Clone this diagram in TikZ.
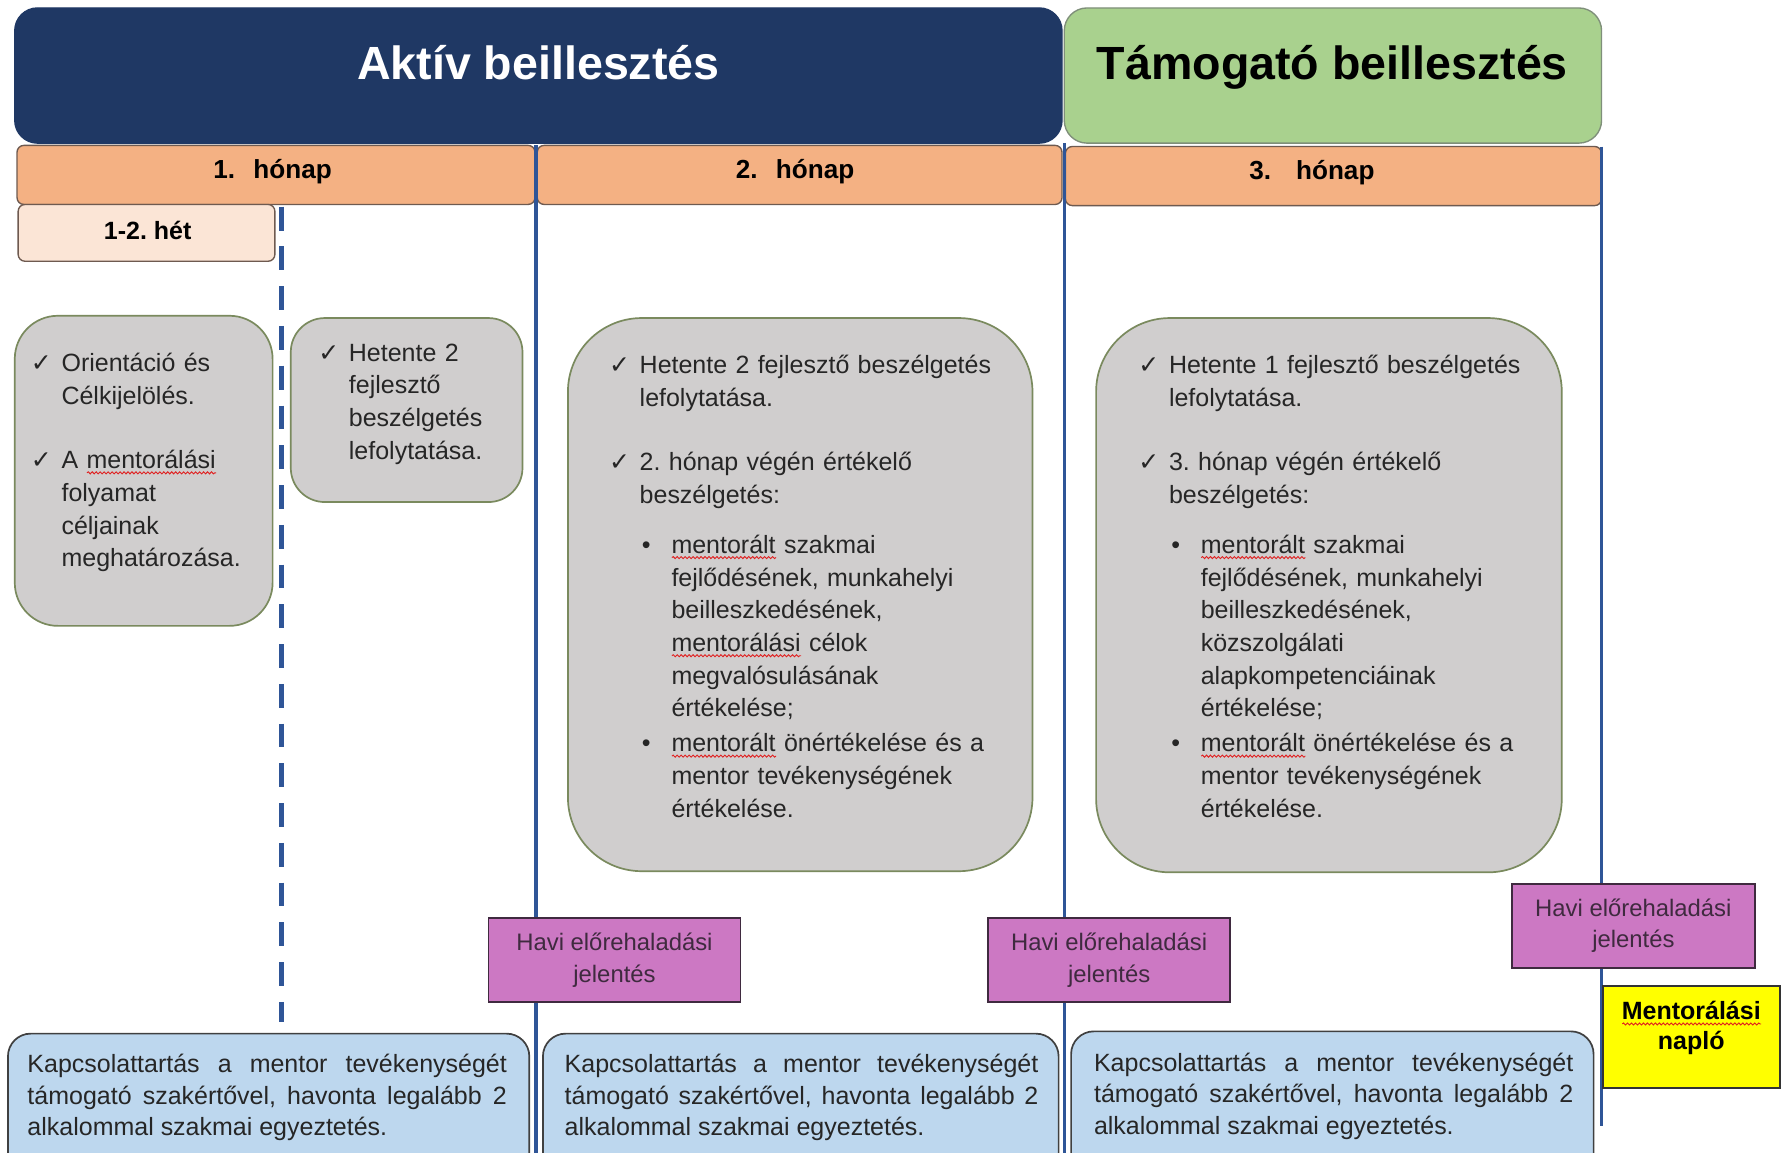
\documentclass[tikz,border=0pt]{standalone}
\usepackage{fontspec}
\setmainfont{Liberation Sans}
\newfontfamily\symfont{DejaVu Sans}
\usetikzlibrary{decorations.pathmorphing}
\definecolor{navy}{HTML}{1F3864}
\definecolor{grn}{HTML}{A9D18E}
\definecolor{grnb}{HTML}{7F8F7A}
\definecolor{orng}{HTML}{F4B183}
\definecolor{orngb}{HTML}{6E5A50}
\definecolor{peach}{HTML}{FBE5D6}
\definecolor{grayf}{HTML}{D0CECE}
\definecolor{olive}{HTML}{7A8A5E}
\definecolor{purp}{HTML}{CC78C3}
\definecolor{purpb}{HTML}{3F2A3F}
\definecolor{lblue}{HTML}{BDD7EE}
\definecolor{dkb}{HTML}{404040}
\definecolor{ylw}{HTML}{FFFF00}
\definecolor{lineblue}{HTML}{2F5597}
\definecolor{txtc}{HTML}{262626}
\definecolor{spell}{HTML}{E02020}
\newsavebox\sqbox
\newlength\sqlen
\newcommand\sq[1]{\sbox\sqbox{#1}\setlength\sqlen{\wd\sqbox}\makebox[0pt][l]{\raisebox{-5pt}{\tikz[x=1pt,y=1pt]\draw[spell,line width=0.8pt,decorate,decoration={snake,amplitude=0.9pt,segment length=3.5pt}] (0,0) -- (\sqlen,0);}}\usebox\sqbox}
\newcommand\ckitem{\makebox[27pt][l]{\symfont\fontsize{22}{22}\selectfont ✓}}
\newcommand\ind{\hspace*{27pt}}
\newcommand\blt{\hspace*{29pt}\makebox[26pt][l]{•}}
\newcommand\bind{\hspace*{55pt}}
\frenchspacing
\begin{document}
\frenchspacing
\begin{tikzpicture}[x=1pt,y=-1pt,
  box/.style={anchor=north west,inner sep=0pt,outer sep=0pt},
  titlebox/.style={box,rounded corners=20pt,line width=1.2pt},
  titletxt/.style={anchor=base,inner sep=0pt,font=\fontsize{41}{48}\selectfont\bfseries},
  monthbox/.style={box,fill=orng,draw=orngb,rounded corners=6pt,line width=1.2pt,minimum height=52pt},
  monthtxt/.style={inner sep=0pt,font=\fontsize{23}{28}\selectfont\bfseries},
  graybox/.style={box,fill=grayf,draw=olive,line width=1.5pt},
  bodytxt/.style={anchor=base west,inner sep=0pt,text=txtc,align=left,font=\fontsize{22}{28.8}\selectfont\frenchspacing},
  reportbox/.style={box,fill=purp,draw=purpb,line width=1.5pt,minimum height=74pt,align=center,text=purpb,font=\fontsize{21}{28}\selectfont},
  contactbox/.style={box,fill=lblue,draw=dkb,rounded corners=20pt,line width=1.5pt,minimum height=130pt},
  contacttxt/.style={anchor=base west,inner sep=0pt,text=txtc,align=justify,font=\fontsize{22}{28}\selectfont\frenchspacing},
  divider/.style={draw=lineblue,line width=3pt},
  weekdivider/.style={draw=lineblue,line width=4.5pt,dash pattern=on 21pt off 14pt}
]
\path[use as bounding box] (0,0) rectangle (1568,1015);
\clip (0,0) rectangle (1568,1015);
\fill[white] (0,0) rectangle (1568,1015);

% phase headers
\node[titlebox,fill=navy,draw=navy,minimum width=922pt,minimum height=119pt] (aktiv) at (13,7) {};
\node[titletxt,text=white] (aktivT) at (474,70) {Aktív beillesztés};
\node[titlebox,fill=grn,draw=grnb,minimum width=473pt,minimum height=119pt] (tam) at (937,7) {};
\node[titletxt,text=black] (tamT) at (1173,70) {Támogató beillesztés};

% months
\node[monthbox,minimum width=456pt] (m1) at (15,128) {};
\node[monthbox,minimum width=462pt] (m2) at (473,128) {};
\node[monthbox,minimum width=472pt] (m3) at (938,129) {};
\node[monthtxt] (m1T) at (240,151) {1.\hspace{16pt}hónap};
\node[monthtxt] (m2T) at (700,151) {2.\hspace{16pt}hónap};
\node[monthtxt] (m3T) at (1155,152) {3.\hspace{22pt}hónap};

% week box
\node[box,fill=peach,draw=orngb,rounded corners=6pt,line width=1.2pt,minimum width=226pt,minimum height=50pt] (wk) at (16,180) {};
\node[monthtxt,font=\fontsize{22}{26}\selectfont\bfseries] (wkT) at (130,203) {1-2. hét};

% dividers
\coordinate (d0a) at (248,182);
\coordinate (d0b) at (248,900);
\coordinate (d1a) at (472,128);
\coordinate (d1b) at (472,1030);
\coordinate (d2a) at (937,126);
\coordinate (d2b) at (937,1030);
\coordinate (d3a) at (1410,129);
\coordinate (d3b) at (1410,991);
\draw[weekdivider] (d0a) -- (d0b);
\draw[divider] (d1a) -- (d1b);
\draw[divider] (d2a) -- (d2b);
\draw[divider] (d3a) -- (d3b);

% gray activity boxes
\node[graybox,rounded corners=38pt,minimum width=227pt,minimum height=273pt] (g1) at (13,278) {};
\node[graybox,rounded corners=30pt,minimum width=204pt,minimum height=162pt] (g2) at (256,280) {};
\node[graybox,rounded corners=65pt,minimum width=409pt,minimum height=487pt] (g3) at (500,280) {};
\node[graybox,rounded corners=65pt,minimum width=410pt,minimum height=488pt] (g4) at (965,280) {};

\node[bodytxt,text width=200pt] (g1T) at (27,327) {%
\ckitem Orientáció és\par
\ind Célkijelölés.\par\vspace{28pt}
\ckitem A \sq{mentorálási}\par
\ind folyamat\par
\ind céljainak\par
\ind meghatározása.};

\node[bodytxt,text width=190pt] (g2T) at (280,318) {%
\ckitem Hetente 2\par
\ind fejlesztő\par
\ind beszélgetés\par
\ind lefolytatása.};

\node[bodytxt,text width=370pt] (g3T) at (536,329) {%
\ckitem Hetente 2 fejlesztő beszélgetés\par
\ind lefolytatása.\par\vspace{28pt}
\ckitem 2. hónap végén értékelő\par
\ind beszélgetés:\par\vspace{15pt}
\blt\sq{mentorált} szakmai\par
\bind fejlődésének, munkahelyi\par
\bind beilleszkedésének,\par
\bind\sq{mentorálási} célok\par
\bind megvalósulásának\par
\bind értékelése;\par\vspace{2pt}
\blt\sq{mentorált} önértékelése és a\par
\bind mentor tevékenységének\par
\bind értékelése.};

\node[bodytxt,text width=370pt] (g4T) at (1002,329) {%
\ckitem Hetente 1 fejlesztő beszélgetés\par
\ind lefolytatása.\par\vspace{28pt}
\ckitem 3. hónap végén értékelő\par
\ind beszélgetés:\par\vspace{15pt}
\blt\sq{mentorált} szakmai\par
\bind fejlődésének, munkahelyi\par
\bind beilleszkedésének,\par
\bind közszolgálati\par
\bind alapkompetenciáinak\par
\bind értékelése;\par\vspace{2pt}
\blt\sq{mentorált} önértékelése és a\par
\bind mentor tevékenységének\par
\bind értékelése.};

% monthly reports
\node[reportbox,minimum width=222pt] (p1) at (430,808) {Havi előrehaladási\\jelentés};
\node[reportbox,minimum width=213pt] (p2) at (870,808) {Havi előrehaladási\\jelentés};
\node[reportbox,minimum width=214pt] (p3) at (1331,778) {Havi előrehaladási\\jelentés};

% mentoring log
\node[box,fill=ylw,draw=black!80,line width=1.5pt,minimum width=156pt,minimum height=90pt] (naplo) at (1411,868) {};
\node[inner sep=0pt,align=center,font=\fontsize{22}{26}\selectfont\bfseries] (naploT) at (1489,905) {\sq{Mentorálási}\\napló};

% contact boxes
\node[contactbox,minimum width=459pt] (b1) at (7,910) {};
\node[contactbox,minimum width=454pt] (b2) at (478,910) {};
\node[contactbox,minimum width=460pt] (b3) at (943,908) {};
\node[contacttxt,text width=422pt] (b1T) at (24,944) {Kapcsolattartás a mentor tevékenységét\linebreak támogató szakértővel, havonta legalább 2\linebreak alkalommal szakmai egyeztetés.};
\node[contacttxt,text width=417pt] (b2T) at (497,944) {Kapcsolattartás a mentor tevékenységét\linebreak támogató szakértővel, havonta legalább 2\linebreak alkalommal szakmai egyeztetés.};
\node[contacttxt,text width=422pt] (b3T) at (963,943) {Kapcsolattartás a mentor tevékenységét\linebreak támogató szakértővel, havonta legalább 2\linebreak alkalommal szakmai egyeztetés.};
\end{tikzpicture}
\end{document}
